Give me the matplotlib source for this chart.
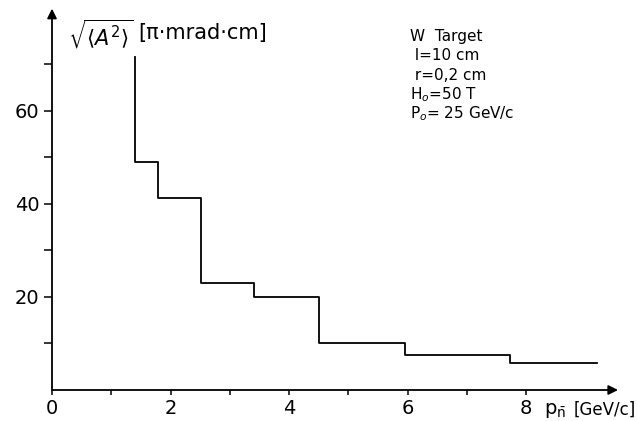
import matplotlib
matplotlib.use("Agg")
import matplotlib.pyplot as plt
import matplotlib.transforms as mtransforms

# Data (histogram-like step curve)
edges = [1.40, 1.40, 1.79, 2.52, 3.41, 4.50, 5.95, 7.72, 9.20]
values = [71.5, 49.0, 41.2, 23.0, 20.0, 10.0, 7.6, 5.8, 5.8]
x_major = [0, 2, 4, 6, 8]
y_major = [20, 40, 60]

plt.rcParams['font.family'] = ['DejaVu Sans']
plt.rcParams['mathtext.fontset'] = 'dejavusans'

fig = plt.figure(figsize=(6.37, 4.21), dpi=100)
ax = fig.add_axes([52/637, 31/421, 569/637, 386/421])
ax.set_xlim(0, 9.6)
ax.set_ylim(0, 83)

ax.step(edges, values, where='post', color='black', lw=1.3)

for s in ax.spines.values():
    s.set_visible(False)
ax.annotate('', xy=(9.55, 0), xytext=(0, 0),
            arrowprops=dict(arrowstyle='-|>', color='black', lw=1.3,
                            mutation_scale=14, shrinkA=0, shrinkB=0),
            annotation_clip=False)
ax.annotate('', xy=(0, 82), xytext=(0, 0),
            arrowprops=dict(arrowstyle='-|>', color='black', lw=1.3,
                            mutation_scale=14, shrinkA=0, shrinkB=0),
            annotation_clip=False)

ax.set_xticks(x_major)
ax.set_xticklabels([str(v) for v in x_major])
ax.set_xticks([1, 3, 5, 7], minor=True)
ax.set_yticks(y_major)
ax.set_yticklabels([str(v) for v in y_major])
ax.set_yticks([10, 30, 50, 70], minor=True)

ax.tick_params(axis='x', which='both', direction='out', length=3.5, width=1.1,
               pad=3, labelsize=14)
ax.tick_params(axis='y', which='both', direction='out', length=6, width=1.1,
               pad=3, labelsize=14)

# axis labels
fig.text(566/637, (421 - 401) / 421, r'p$_{\bar{\rm n}}$',
         ha='right', va='top', fontsize=14)
fig.text(636/637, (421 - 401) / 421, '[GeV/c]',
         ha='right', va='top', fontsize=12)

fig.text(68/637, (421 - 34) / 421, r'$\sqrt{\langle A^{2}\rangle}$',
         ha='left', va='center', fontsize=15)
fig.text(138/637, (421 - 33) / 421, '[π·mrad·cm]',
         ha='left', va='center', fontsize=15)

info = ['W  Target', ' l=10 cm', ' r=0,2 cm', r'H$_o$=50 T', r'P$_o$= 25 GeV/c']
for i, line in enumerate(info):
    fig.text(410/637, (421 - 36 - i * 19.5) / 421, line,
             ha='left', va='center', fontsize=11)

fig.savefig('out.png', dpi=100)
